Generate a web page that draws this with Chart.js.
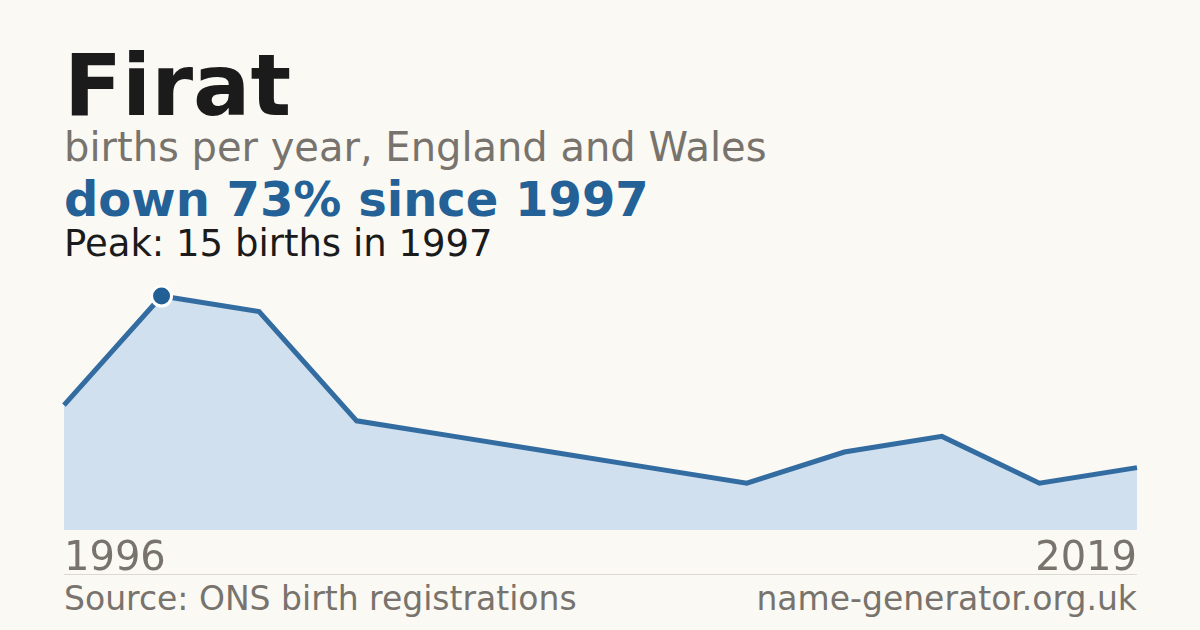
<!DOCTYPE html>
<html>
<head>
<meta charset="utf-8">
<script src="https://cdn.jsdelivr.net/npm/chart.js@4"></script>
<style>
  html, body { margin: 0; padding: 0; }
  body { width: 1200px; height: 630px; background: #faf9f4; position: relative; overflow: hidden;
         font-family: "DejaVu Sans", sans-serif; }
  .t { position: absolute; left: 64px; line-height: 1; white-space: nowrap; }
  #title { top: 43px; font-size: 85px; font-weight: bold; color: #1b1b1b; }
  #sub { top: 127px; font-size: 40px; color: #78736c; }
  #change { top: 175px; font-size: 48px; font-weight: bold; color: #236196; }
  #peak { top: 225px; font-size: 37px; color: #1b1b1b; }
  .yr { position: absolute; top: 536px; font-size: 40px; line-height: 1; color: #78736c; }
  #rule { position: absolute; left: 64px; width: 1073px; top: 574px; height: 1px; background: #dcd9d2; }
  .foot { position: absolute; top: 582px; font-size: 33px; line-height: 1; color: #78736c; }
  #wrap { position: absolute; left: 0; top: 270px; width: 1200px; height: 280px; }
</style>
</head>
<body>
<div class="t" id="title">Firat</div>
<div class="t" id="sub">births per year, England and Wales</div>
<div class="t" id="change">down 73% since 1997</div>
<div class="t" id="peak">Peak: 15 births in 1997</div>
<div id="wrap"><canvas id="chart"></canvas></div>
<div class="yr" id="yrFirst" style="left:64px"></div>
<div class="yr" id="yrLast" style="right:63px"></div>
<div id="rule"></div>
<div class="foot" style="left:64px">Source: ONS birth registrations</div>
<div class="foot" style="right:63px">name-generator.org.uk</div>
<script>
// years with registrations, and births in each
const years = ['1996', '1997', '1998', '1999', '2002', '2005', '2008', '2011', '2013', '2015', '2017', '2019'];
const births = [8, 15, 14, 7, 6, 5, 4, 3, 5, 6, 3, 4];

const peak = Math.max(...births);
const peakIdx = births.indexOf(peak);

document.getElementById('yrFirst').textContent = years[0];
document.getElementById('yrLast').textContent = years[years.length - 1];

new Chart(document.getElementById('chart'), {
  type: 'line',
  data: {
    labels: years,
    datasets: [{
      data: births,
      borderColor: '#336ca1',
      borderWidth: 5,
      backgroundColor: '#d0e0ef',
      fill: 'origin',
      tension: 0,
      pointRadius: ctx => ctx.dataIndex === peakIdx ? 10 : 0,
      pointBackgroundColor: '#215f95',
      pointBorderColor: '#ffffff',
      pointBorderWidth: 3,
      pointHoverRadius: 0
    }]
  },
  options: {
    responsive: true,
    maintainAspectRatio: false,
    animation: false,
    layout: { padding: { left: 64, right: 63, top: 26, bottom: 20 } },
    plugins: { legend: { display: false }, tooltip: { enabled: false } },
    scales: {
      x: { display: false },
      y: { display: false, min: 0, max: 15 }
    },
    elements: { line: { borderJoinStyle: 'miter' } },
    clip: false
  }
});
</script>
</body>
</html>
